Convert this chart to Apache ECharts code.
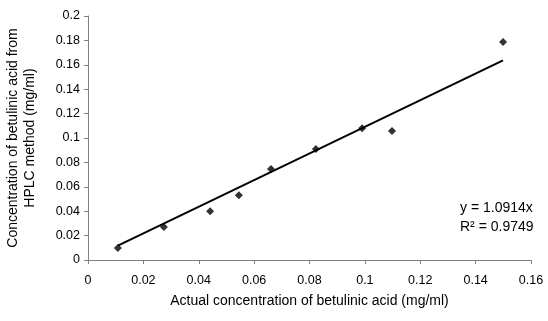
<!DOCTYPE html>
<html>
<head>
<meta charset="utf-8">
<script src="https://cdn.jsdelivr.net/npm/echarts@6/dist/echarts.min.js"></script>
<style>
  html, body { margin: 0; padding: 0; background: #fff; }
  #chart { width: 548px; height: 321px; }
</style>
</head>
<body>
<div id="chart"></div>
<script>
// 실측 농도 (x) / HPLC 측정 농도 (y)
var actualConc = [0.0108, 0.0274, 0.0441, 0.0545, 0.0661, 0.0823, 0.099, 0.1098, 0.1499];
var hplcConc = [0.0098, 0.027, 0.040, 0.053, 0.0746, 0.091, 0.108, 0.1057, 0.1787];
var slope = 1.0914;
var rSquared = 0.9749;

var points = actualConc.map(function (x, i) { return [x, hplcConc[i]]; });
var xMin = Math.min.apply(null, actualConc);
var xMax = Math.max.apply(null, actualConc);
var trend = [[xMin, slope * xMin], [xMax, slope * xMax]];

var chart = echarts.init(document.getElementById('chart'));

var labelFont = { color: '#000', fontFamily: 'Liberation Sans', fontSize: 12.5 };
var nameFont = { color: '#000', fontFamily: 'Liberation Sans', fontSize: 14 };

option = {
  animation: false,
  grid: { left: 88, top: 16, right: 17, bottom: 61, outerBoundsMode: 'none', containLabel: false },
  xAxis: {
    type: 'value',
    min: 0, max: 0.16, interval: 0.02,
    name: 'Actual concentration of betulinic acid (mg/ml)',
    nameLocation: 'middle',
    nameGap: 34,
    nameTextStyle: nameFont,
    axisLine: { show: true, lineStyle: { color: '#808080', width: 1 } },
    axisTick: { show: true, length: 4, lineStyle: { color: '#808080' } },
    axisLabel: Object.assign({ margin: 14 }, labelFont),
    splitLine: { show: false }
  },
  yAxis: {
    type: 'value',
    min: 0, max: 0.2, interval: 0.02,
    name: 'Concentration of betulinic acid from\nHPLC method (mg/ml)',
    nameLocation: 'middle',
    nameGap: 49,
    nameTextStyle: Object.assign({ lineHeight: 17.5 }, nameFont),
    axisLine: { show: true, lineStyle: { color: '#808080', width: 1 } },
    axisTick: { show: true, length: 4, lineStyle: { color: '#808080' } },
    axisLabel: Object.assign({ margin: 8 }, labelFont),
    splitLine: { show: false }
  },
  series: [
    {
      type: 'line',
      data: trend,
      symbol: 'none',
      lineStyle: { color: '#000', width: 2 },
      z: 2
    },
    {
      type: 'scatter',
      data: points,
      symbol: 'diamond',
      symbolSize: 8,
      itemStyle: { color: '#000' },
      z: 3
    }
  ],
  graphic: [
    {
      type: 'text',
      left: 460, top: 199,
      style: {
        text: 'y = ' + slope + 'x\nR² = ' + rSquared,
        fill: '#000',
        font: '14px "Liberation Sans"',
        lineHeight: 19
      }
    }
  ]
};

// 차트 옵션 설정하기
chart.setOption(option);
</script>
</body>
</html>
